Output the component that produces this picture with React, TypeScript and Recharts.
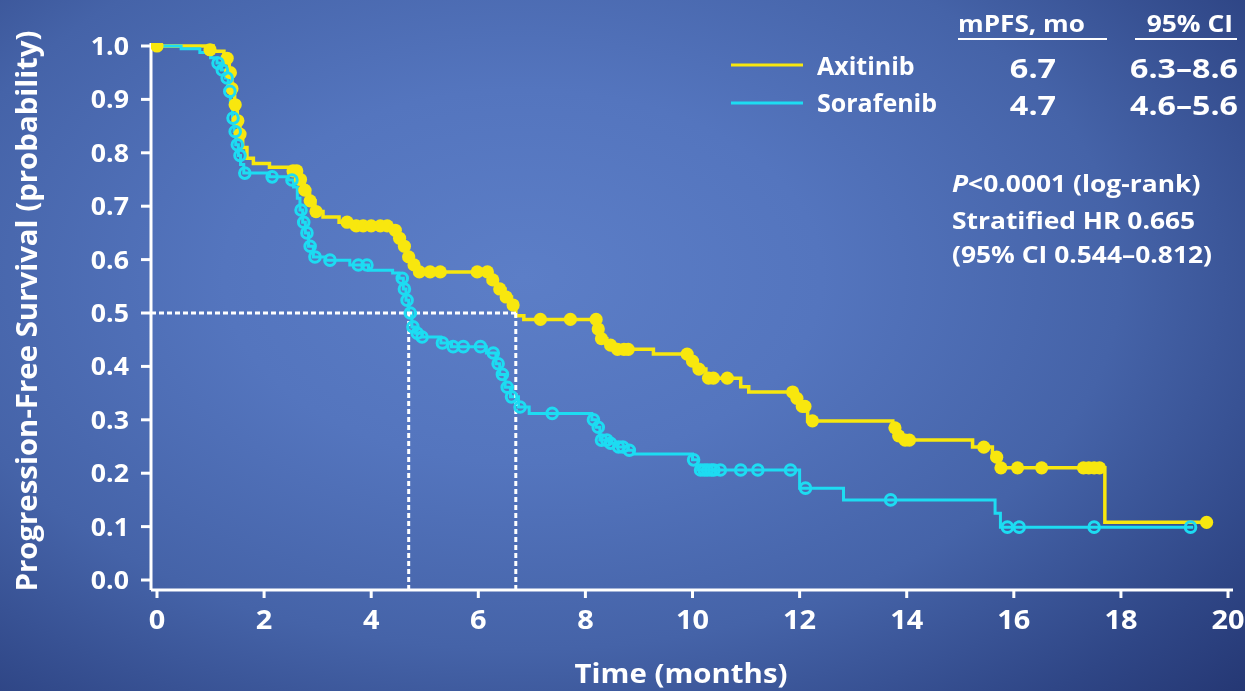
import React from 'react';
import { ComposedChart, Line, Scatter, XAxis, YAxis, ReferenceLine } from 'recharts';

// ---------- Kaplan–Meier data (months, probability) ----------

// Axitinib step curve
const axiTimes = [
  0, 1.05, 1.25, 1.35, 1.4, 1.45, 1.5, 1.55, 1.6, 1.68, 1.8, 2.1, 2.55, 2.65, 2.75, 2.85, 2.95, 3.1,
  3.4, 3.7, 4.4, 4.5, 4.6, 4.68, 4.76, 4.85, 6.2, 6.35, 6.5, 6.62, 6.7, 6.85, 8.22, 8.27, 8.4, 8.52,
  9.27, 9.95, 10.08, 10.25, 10.9, 11.05, 11.9, 12.0, 12.15, 13.74, 13.82, 13.92, 15.23, 15.6, 15.73,
  17.7, 19.6,
];
const axiSurv = [
  1.0, 0.99, 0.977, 0.95, 0.92, 0.89, 0.86, 0.835, 0.81, 0.79, 0.78, 0.773, 0.766, 0.75, 0.73, 0.71,
  0.69, 0.68, 0.67, 0.663, 0.655, 0.64, 0.625, 0.605, 0.59, 0.577, 0.562, 0.545, 0.53, 0.515, 0.495,
  0.488, 0.47, 0.452, 0.44, 0.432, 0.423, 0.41, 0.395, 0.378, 0.362, 0.352, 0.34, 0.325, 0.298, 0.285,
  0.27, 0.262, 0.249, 0.23, 0.21, 0.108, 0.108,
];
// Axitinib censored patients
const axiCensorTimes = [
  0, 0.99, 1.31, 1.37, 1.4, 1.46, 1.51, 1.55, 2.54, 2.61, 2.68, 2.76, 2.86, 2.97, 3.55, 3.72, 3.85,
  4.0, 4.17, 4.3, 4.45, 4.53, 4.62, 4.7, 4.8, 4.9, 5.1, 5.29, 5.98, 6.17, 6.27, 6.4, 6.52, 6.65,
  7.16, 7.72, 8.2, 8.24, 8.3, 8.47, 8.6, 8.72, 8.8, 9.9, 10.0, 10.12, 10.3, 10.39, 10.65, 11.87,
  11.95, 12.05, 12.1, 12.24, 13.78, 13.85, 13.97, 14.05, 15.44, 15.68, 15.76, 16.07, 16.52, 17.3,
  17.4, 17.5, 17.6, 19.6,
];
const axiCensorSurv = [
  1.0, 0.993, 0.977, 0.95, 0.92, 0.89, 0.86, 0.835, 0.766, 0.766, 0.75, 0.73, 0.71, 0.69, 0.67,
  0.663, 0.663, 0.663, 0.663, 0.663, 0.655, 0.64, 0.625, 0.605, 0.59, 0.577, 0.577, 0.577, 0.577,
  0.577, 0.562, 0.545, 0.53, 0.515, 0.488, 0.488, 0.488, 0.47, 0.452, 0.44, 0.432, 0.432, 0.432,
  0.423, 0.41, 0.395, 0.378, 0.378, 0.378, 0.352, 0.34, 0.325, 0.325, 0.298, 0.285, 0.27, 0.262,
  0.262, 0.249, 0.23, 0.21, 0.21, 0.21, 0.21, 0.21, 0.21, 0.21, 0.108,
];

// Sorafenib step curve
const sorTimes = [
  0, 0.45, 0.8, 1.0, 1.12, 1.2, 1.28, 1.33, 1.37, 1.41, 1.44, 1.47, 1.52, 1.56, 1.62, 2.1, 2.45,
  2.55, 2.62, 2.67, 2.72, 2.77, 2.83, 2.92, 3.15, 3.6, 3.95, 4.4, 4.52, 4.6, 4.65, 4.7, 4.76, 4.83,
  4.95, 5.3, 5.5, 6.15, 6.33, 6.4, 6.5, 6.6, 6.75, 6.95, 8.12, 8.2, 8.27, 8.45, 8.6, 8.8, 8.9, 10.0,
  10.1, 12.0, 12.82, 15.65, 15.75, 19.35,
];
const sorSurv = [
  1.0, 0.995, 0.988, 0.978, 0.968, 0.955, 0.94, 0.915, 0.89, 0.865, 0.84, 0.815, 0.795, 0.778, 0.762,
  0.755, 0.749, 0.736, 0.715, 0.693, 0.67, 0.65, 0.625, 0.605, 0.599, 0.59, 0.58, 0.575, 0.565, 0.545,
  0.524, 0.5, 0.474, 0.462, 0.455, 0.444, 0.437, 0.425, 0.405, 0.385, 0.361, 0.343, 0.324, 0.312,
  0.3, 0.286, 0.262, 0.256, 0.249, 0.243, 0.236, 0.225, 0.206, 0.172, 0.15, 0.125, 0.099, 0.099,
];
// Sorafenib censored patients
const sorCensorTimes = [
  1.14, 1.22, 1.31, 1.36, 1.42, 1.46, 1.5, 1.55, 1.64, 2.15, 2.52, 2.69, 2.74, 2.8, 2.86, 2.95,
  3.23, 3.76, 3.92, 4.58, 4.62, 4.67, 4.73, 4.78, 4.86, 4.95, 5.33, 5.53, 5.72, 6.04, 6.28, 6.37,
  6.45, 6.54, 6.62, 6.78, 7.38, 8.15, 8.24, 8.3, 8.4, 8.47, 8.62, 8.7, 8.82, 10.02, 10.15, 10.22,
  10.28, 10.35, 10.4, 10.52, 10.9, 11.22, 11.83, 12.11, 13.7, 15.88, 16.1, 17.5, 19.3,
];
const sorCensorSurv = [
  0.968, 0.955, 0.94, 0.915, 0.865, 0.84, 0.815, 0.795, 0.762, 0.755, 0.749, 0.693, 0.67, 0.65,
  0.625, 0.605, 0.599, 0.59, 0.59, 0.565, 0.545, 0.524, 0.5, 0.474, 0.462, 0.455, 0.444, 0.437,
  0.437, 0.437, 0.425, 0.405, 0.385, 0.361, 0.343, 0.324, 0.312, 0.3, 0.286, 0.262, 0.262, 0.256,
  0.249, 0.249, 0.243, 0.225, 0.206, 0.206, 0.206, 0.206, 0.206, 0.206, 0.206, 0.206, 0.206, 0.172,
  0.15, 0.099, 0.099, 0.099, 0.099,
];

// Legend / summary table
const seriesNames = ['Axitinib', 'Sorafenib'];
const medianPFS = [6.7, 4.7];
const ciLabels = ['6.3–8.6', '4.6–5.6'];
const statLines = ['<0.0001 (log-rank)', 'Stratified HR 0.665', '(95% CI 0.544–0.812)'];

// Axis ticks
const xTicks = [0, 2, 4, 6, 8, 10, 12, 14, 16, 18, 20];
const yTicks = [0, 0.1, 0.2, 0.3, 0.4, 0.5, 0.6, 0.7, 0.8, 0.9, 1.0];

// ---------- styling ----------
const W = 1245;
const H = 691;
const FONT = '"Open Sans", "Noto Sans", sans-serif';
const SX = 1.07;
const AXI_COLOR = '#f8e70e';
const SOR_COLOR = '#1ddcf2';
const WHITE = '#ffffff';

const X_DOMAIN: [number, number] = [-0.112, 20.093];
const Y_DOMAIN: [number, number] = [-0.0187, 1.0056];

const toPoints = (ts: number[], ss: number[]) => ts.map((t, i) => ({ t, s: ss[i] }));

const axiCurve = toPoints(axiTimes, axiSurv);
const axiCensor = toPoints(axiCensorTimes, axiCensorSurv);
const sorCurve = toPoints(sorTimes, sorSurv);
const sorCensor = toPoints(sorCensorTimes, sorCensorSurv);

type STextProps = {
  x: number;
  y: number;
  size: number;
  anchor?: 'start' | 'middle' | 'end';
  rotate?: number;
  sx?: number;
  children: React.ReactNode;
};

// Bold white text, slightly widened horizontally
function SText({ x, y, size, anchor = 'start', rotate, sx = SX, children }: STextProps) {
  const tf = `translate(${x},${y})${rotate ? ` rotate(${rotate})` : ''} scale(${sx},1)`;
  return (
    <text transform={tf} textAnchor={anchor} fontFamily={FONT} fontWeight={700} fontSize={size} fill={WHITE}>
      {children}
    </text>
  );
}

const YTick = (props: any) => {
  const { x, y, payload } = props;
  const size = 25;
  return (
    <SText x={x} y={y + size * 0.357} size={size} anchor="end">
      {Number(payload.value).toFixed(1)}
    </SText>
  );
};

const XTick = (props: any) => {
  const { x, y, payload } = props;
  const size = 27;
  return (
    <SText x={x} y={y + size * 0.714} size={size} anchor="middle">
      {payload.value}
    </SText>
  );
};

const FilledDot = (p: any) => <circle cx={p.cx} cy={p.cy} r={6.6} fill={AXI_COLOR} />;
const OpenDot = (p: any) => (
  <circle cx={p.cx} cy={p.cy} r={5.3} fill="none" stroke={SOR_COLOR} strokeWidth={3} />
);

const seriesColors = [AXI_COLOR, SOR_COLOR];

function Annotations() {
  return (
    <svg
      width={W}
      height={H}
      style={{ position: 'absolute', left: 0, top: 0, pointerEvents: 'none' }}
    >
      {/* axis titles */}
      <SText x={37} y={311} size={28} anchor="middle" rotate={-90} sx={1.05}>
        Progression-Free Survival (probability)
      </SText>
      <SText x={681} y={683} size={27} anchor="middle" sx={1.09}>
        Time (months)
      </SText>

      {/* legend */}
      {seriesNames.map((name, i) => (
        <g key={name}>
          <line x1={731} x2={803} y1={65 + i * 38} y2={65 + i * 38} stroke={seriesColors[i]} strokeWidth={3} />
          <SText x={817} y={75 + i * 37} size={25} sx={1.0}>
            {name}
          </SText>
          <SText x={1033} y={78 + i * 37} size={27} anchor="middle" sx={1.2}>
            {medianPFS[i].toFixed(1)}
          </SText>
          <SText x={1184} y={78 + i * 37} size={27} anchor="middle" sx={1.19}>
            {ciLabels[i]}
          </SText>
        </g>
      ))}

      {/* table header */}
      <SText x={958} y={32} size={24} sx={1.09}>
        mPFS, mo
      </SText>
      <line x1={958} x2={1107} y1={39} y2={39} stroke={WHITE} strokeWidth={2} />
      <SText x={1233} y={32} size={24} anchor="end" sx={1.1}>
        95% CI
      </SText>
      <line x1={1135} x2={1237} y1={39} y2={39} stroke={WHITE} strokeWidth={2} />

      {/* statistics */}
      <text
        transform={`translate(952,192) scale(1.1,1)`}
        fontFamily={FONT}
        fontWeight={700}
        fontSize={24}
        fill={WHITE}
      >
        <tspan fontStyle="italic">P</tspan>
        {statLines[0]}
      </text>
      <SText x={952} y={229} size={24} sx={1.1}>
        {statLines[1]}
      </SText>
      <SText x={952} y={263} size={24} sx={1.1}>
        {statLines[2]}
      </SText>
    </svg>
  );
}

export default function App() {
  const dash = { stroke: WHITE, strokeWidth: 3, strokeDasharray: '5 3' };
  return (
    <div
      style={{
        position: 'fixed',
        left: 0,
        top: 0,
        width: W,
        height: H,
        overflow: 'hidden',
        background:
          'radial-gradient(ellipse 80% 90% at 42% 40%, #5c7ec7 0%, #5475be 30%, #4563a8 60%, #2f4686 85%, #243672 100%)',
      }}
    >
      <ComposedChart width={W} height={H} margin={{ top: 43, right: 12, bottom: 41, left: 0 }}>
        <XAxis
          type="number"
          dataKey="t"
          domain={X_DOMAIN}
          allowDataOverflow
          ticks={xTicks}
          interval={0}
          height={60}
          tickSize={8}
          tickMargin={12}
          axisLine={{ stroke: WHITE, strokeWidth: 3 }}
          tickLine={{ stroke: WHITE, strokeWidth: 3 }}
          tick={<XTick />}
        />
        <YAxis
          type="number"
          dataKey="s"
          domain={Y_DOMAIN}
          allowDataOverflow
          ticks={yTicks}
          interval={0}
          width={151}
          tickSize={10}
          tickMargin={12}
          axisLine={{ stroke: WHITE, strokeWidth: 3 }}
          tickLine={{ stroke: WHITE, strokeWidth: 3 }}
          tick={<YTick />}
        />
        <Line
          data={axiCurve}
          dataKey="s"
          name={seriesNames[0]}
          type="stepAfter"
          stroke={AXI_COLOR}
          strokeWidth={3.5}
          dot={false}
          activeDot={false}
          isAnimationActive={false}
        />
        <Scatter
          data={axiCensor}
          dataKey="s"
          name={`${seriesNames[0]} censored`}
          shape={FilledDot}
          isAnimationActive={false}
        />
        <Line
          data={sorCurve}
          dataKey="s"
          name={seriesNames[1]}
          type="stepAfter"
          stroke={SOR_COLOR}
          strokeWidth={3}
          dot={false}
          activeDot={false}
          isAnimationActive={false}
        />
        <Scatter
          data={sorCensor}
          dataKey="s"
          name={`${seriesNames[1]} censored`}
          shape={OpenDot}
          isAnimationActive={false}
        />
        {/* median markers */}
        <ReferenceLine
          segment={[
            { x: X_DOMAIN[0], y: 0.5 },
            { x: medianPFS[0] + 0.05, y: 0.5 },
          ]}
          ifOverflow="visible"
          {...dash}
        />
        <ReferenceLine
          segment={[
            { x: medianPFS[1], y: 0.5 },
            { x: medianPFS[1], y: Y_DOMAIN[0] },
          ]}
          ifOverflow="visible"
          {...dash}
        />
        <ReferenceLine
          segment={[
            { x: medianPFS[0], y: 0.5 },
            { x: medianPFS[0], y: Y_DOMAIN[0] },
          ]}
          ifOverflow="visible"
          {...dash}
        />
      </ComposedChart>
      <Annotations />
    </div>
  );
}
